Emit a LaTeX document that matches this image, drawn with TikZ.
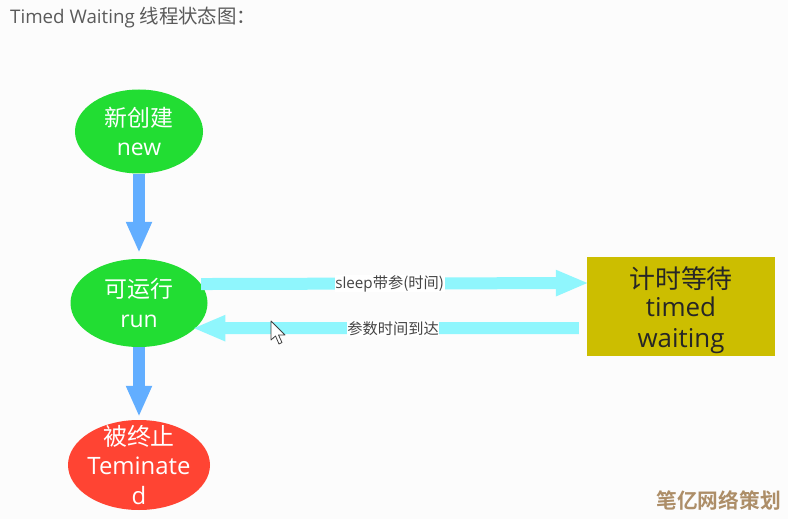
\documentclass[tikz,border=0pt]{standalone}
\usepackage{fontspec}
\setmainfont{Open Sans}
\newfontfamily\zh{Noto Sans CJK SC}
\newfontfamily\zhb[BoldFont={Noto Sans CJK SC Bold}]{Noto Sans CJK SC}
\usetikzlibrary{shapes.geometric,arrows.meta}
\definecolor{nodegreen}{HTML}{22DD33}
\definecolor{nodered}{HTML}{FF4433}
\definecolor{boxyellow}{HTML}{CCBE00}
\definecolor{arrowblue}{HTML}{62AEFF}
\definecolor{arrowcyan}{HTML}{8FF6FD}
\definecolor{labelgrey}{HTML}{444444}
\definecolor{titlegrey}{HTML}{5A5A5A}
\definecolor{markbrown}{HTML}{AD8E68}
\tikzset{
  x=1bp,y=-1bp,
  statenode/.style={ellipse,inner sep=0pt,text=white,align=center,font=\fontsize{23}{30}\selectfont},
  boxnode/.style={rectangle,fill=boxyellow,inner sep=0pt,minimum width=188bp,minimum height=99bp,text=black!85,align=center,font=\fontsize{26}{30}\selectfont},
  vertarrow/.style={draw=arrowblue,line width=12bp,-{Triangle[length=31bp,width=24bp]}},
  horizarrow/.style={draw=arrowcyan,line width=12bp,-{Triangle[length=33bp,width=24bp]}},
  edgelabel/.style={fill=white,text=labelgrey,inner sep=0.5pt,font=\fontsize{15.3}{18}\selectfont},
}
\begin{document}
\begin{tikzpicture}
\useasboundingbox (0,0) rectangle (788,519);
\fill[white!99!black] (0,0) rectangle (788,519);
\node[anchor=west,text=titlegrey,inner sep=0pt,font=\fontsize{18.8}{22}\selectfont] (title) at (10,18) {Timed Waiting {\zh\fontsize{19.5}{22}\selectfont 线程状态图：}};
\node[statenode,fill=nodegreen,minimum width=128bp,minimum height=84bp] (new) at (139,131.5) {{\zh 新创建}\\new};
\node[statenode,fill=nodegreen,minimum width=137bp,minimum height=88bp] (run) at (139,303) {{\zh 可运行}\\[-0.5pt]run};
\node[ellipse,inner sep=0pt,fill=nodered,minimum width=142bp,minimum height=90bp,
  label={[text=white,align=center,inner sep=0pt,font=\fontsize{24}{30}\selectfont]center:{{\zh 被终止}\\Teminate\\d}}] (term) at (139,465) {};
\node[boxnode,text depth=0pt] (timed) at (681,306.5) {\raisebox{-2bp}{\zh 计时等待}\\[-1bp]\raisebox{-1bp}{timed}\\[0.5bp]\raisebox{-1.5bp}{waiting}};
\draw[vertarrow,shorten >=6bp] (new.south) -- (run.north);
\draw[vertarrow,shorten >=3bp] (run.south) -- (term.north);
\draw[horizarrow,shorten >=-2bp] (run.17) -- (timed.166.5) node[edgelabel,pos=0.489] (sleeplabel) {sleep{\zh 带参(时间)}};
\draw[horizarrow,shorten <=8bp,shorten >=-3bp] (timed.193) -- (run.-24) node[edgelabel,pos=0.495] (arrivelabel) {{\zh 参数时间到达}};
\draw[fill=white,draw=black!75,line width=0.8bp,line join=round]
  (271,321) -- (271,340) -- (275.5,336) -- (279,344) -- (282,342.5) -- (278.5,335) -- (285,335) -- cycle;
\node[anchor=east,text=markbrown,inner sep=0pt,font=\zhb\bfseries\fontsize{20.8}{24}\selectfont] (mark) at (781,500) {笔亿网络策划};
\end{tikzpicture}
\end{document}
